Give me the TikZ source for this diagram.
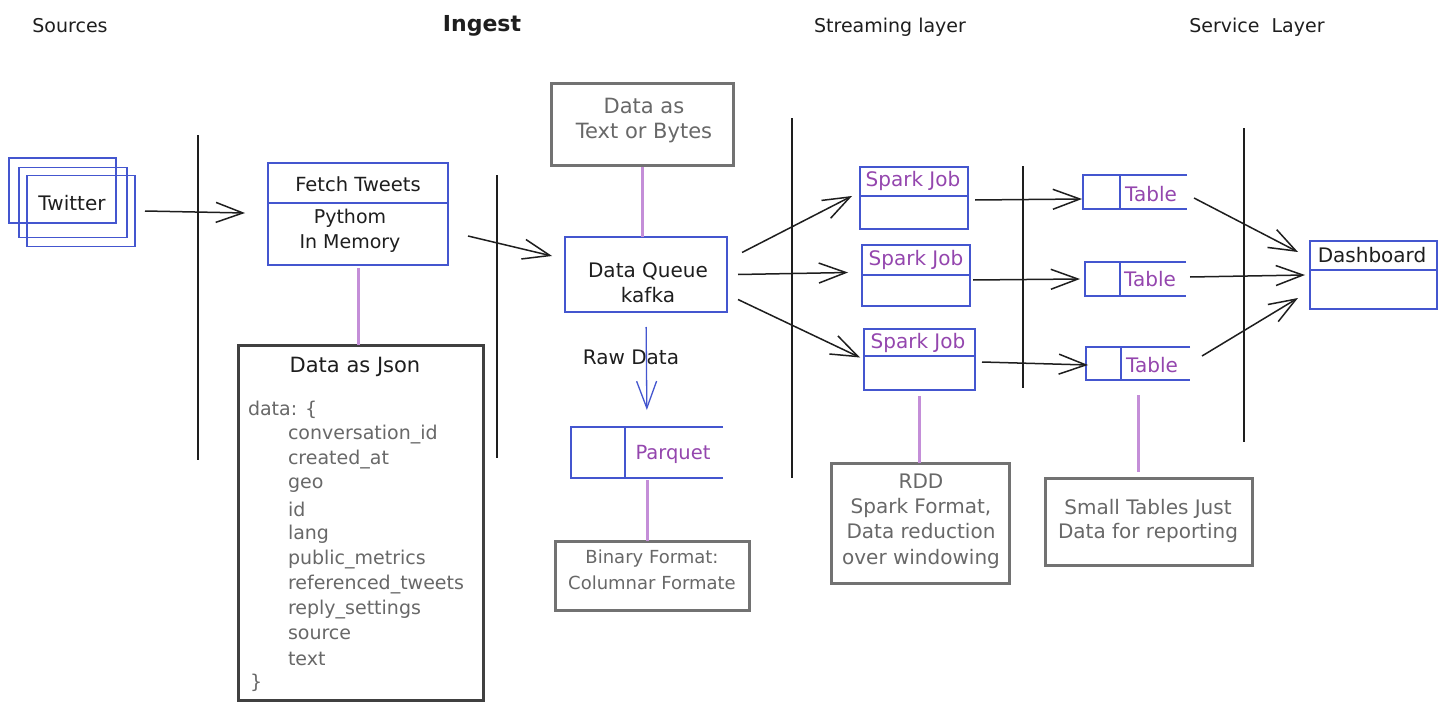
\documentclass[tikz,border=0pt]{standalone}
\usepackage{fontspec}
\setmainfont{DejaVu Sans}
\usetikzlibrary{arrows.meta,calc}
\definecolor{sblue}{HTML}{4456CF}
\definecolor{spurp}{HTML}{9446AE}
\definecolor{lpurp}{HTML}{C48ED8}
\definecolor{sgray}{HTML}{727272}
\definecolor{tgray}{HTML}{686868}
\definecolor{ink}{HTML}{1E1E1E}
\newcommand{\fsz}[2]{\fontsize{#1pt}{#2pt}\selectfont}
\begin{document}
\begin{tikzpicture}[x=1pt,y=-1pt,
  every node/.style={inner sep=0pt, outer sep=0pt, text=ink},
  bline/.style={draw=sblue, line width=1.3pt},
  bbox/.style={draw=sblue, line width=1.3pt, rectangle},
  gbox/.style={draw=sgray, line width=3pt, rectangle},
  gtxt/.style={text=tgray, align=center},
  sepl/.style={draw=ink, line width=1.4pt},
  arr/.style={draw=ink, line width=1.5pt, -{Straight Barb[length=27pt,width=20pt]}},
  barr/.style={draw=sblue, line width=1.3pt, -{Straight Barb[length=27pt,width=20pt]}},
  link/.style={draw=lpurp, line width=3pt},
  ptxt/.style={text=spurp},
  hdr/.style={font=\fsz{19}{23}},
]
\fill[white] (0,0) rectangle (1449,709);
\useasboundingbox (0,0) rectangle (1449,709);

% headers
\node[hdr] (hsrc) at (70,26) {Sources};
\node[font=\fsz{22}{26}\bfseries] (hing) at (482,26) {Ingest};
\node[hdr] (hstr) at (890,27) {Streaming layer};
\node[hdr] (hsvc) at (1257,27) {Service\ \ Layer};

% separators
\draw[sepl] (198,135) -- (198,460);
\draw[sepl] (497,175) -- (497,458);
\draw[sepl] (792,118) -- (792,478);
\draw[sepl] (1023,166) -- (1023,388);
\draw[sepl] (1244,128) -- (1244,442);

% Twitter stack
\node[bbox, minimum width=107pt, minimum height=65pt] (tw1) at (62.5,190.5) {};
\node[bbox, minimum width=108pt, minimum height=70pt] (tw2) at (73,202.5) {};
\node[bbox, minimum width=108pt, minimum height=71pt] (tw3) at (81,211) {};
\node[font=\fsz{20}{24}] (twt) at (72,203) {Twitter};

% Fetch tweets
\node[bbox, minimum width=180pt, minimum height=102pt] (fetch) at (358,214) {};
\draw[bline] (fetch.west |- 0,203) -- (fetch.east |- 0,203);
\node[font=\fsz{19.5}{24}] (fetcht) at (358,184) {Fetch Tweets};
\node[font=\fsz{19}{25}, align=center] (fetchb) at (350,231) {Pythom\\In Memory};

% Json box
\node[draw=ink!85, line width=3pt, rectangle, minimum width=245pt, minimum height=355pt] (json) at (360.5,522.5) {};
\node[font=\fsz{21}{25}] (jsont) at (355,367) {Data as Json};
\node[anchor=west, text=tgray, font=\fsz{19}{24}] (jd) at (248,410) {data: \{};
\foreach \t [count=\i] in {conversation\_id, created\_at, geo, id, lang, public\_metrics, referenced\_tweets, reply\_settings, source, text}
  \node[anchor=west, text=tgray, font=\fsz{19}{24}] (j\i) at (288,410+\i*24.9) {\t};
\node[anchor=west, text=tgray, font=\fsz{19}{24}] (je) at (250,683) {\}};

% Data as text
\node[gbox, minimum width=182pt, minimum height=81pt] (txtb) at (642,124.5) {};
\node[gtxt, font=\fsz{21}{25}] (txtt) at (644,121) {Data as\\Text or Bytes};

% Kafka
\node[bbox, minimum width=162pt, minimum height=75pt] (kafka) at (646,274.5) {};
\node[font=\fsz{20}{25}, align=center] (kafkat) at (648,283) {Data Queue\\kafka};

% Parquet
\node[minimum width=152pt, minimum height=51pt] (parq) at (647,452.5) {};
\draw[bline] (parq.north east) -- (parq.north west) -- (parq.south west) -- (parq.south east);
\draw[bline] (parq.north -| 625,0) -- (parq.south -| 625,0);
\node[ptxt, font=\fsz{19.5}{24}] (parqt) at (673,454) {Parquet};

% Binary format
\node[gbox, minimum width=194pt, minimum height=69pt] (bin) at (652,575.5) {};
\node[gtxt, font=\fsz{18}{26}] (bint) at (652,570) {Binary Format:\\Columnar Formate};

% Spark jobs
\node[bbox, minimum width=108pt, minimum height=62pt] (s1) at (914,198) {};
\draw[bline] (s1.west |- 0,196) -- (s1.east |- 0,196);
\node[ptxt, font=\fsz{20}{24}] (s1t) at (913,181) {Spark Job};
\node[bbox, minimum width=108pt, minimum height=61pt] (s2) at (916,275.5) {};
\draw[bline] (s2.west |- 0,275) -- (s2.east |- 0,275);
\node[ptxt, font=\fsz{20}{24}] (s2t) at (916,260) {Spark Job};
\node[bbox, minimum width=111pt, minimum height=61pt] (s3) at (919.5,359.5) {};
\draw[bline] (s3.west |- 0,356) -- (s3.east |- 0,356);
\node[ptxt, font=\fsz{20}{24}] (s3t) at (918,343) {Spark Job};

% Tables
\node[minimum width=104pt, minimum height=34pt] (t1) at (1135,192) {};
\draw[bline] (t1.north east) -- (t1.north west) -- (t1.south west) -- (t1.south east);
\draw[bline] (t1.north -| 1120,0) -- (t1.south -| 1120,0);
\node[ptxt, font=\fsz{20}{24}] (t1t) at (1151,194) {Table};
\node[minimum width=101pt, minimum height=34pt] (t2) at (1135.5,279) {};
\draw[bline] (t2.north east) -- (t2.north west) -- (t2.south west) -- (t2.south east);
\draw[bline] (t2.north -| 1120,0) -- (t2.south -| 1120,0);
\node[ptxt, font=\fsz{20}{24}] (t2t) at (1150,279) {Table};
\node[minimum width=104pt, minimum height=33pt] (t3) at (1138,363.5) {};
\draw[bline] (t3.north east) -- (t3.north west) -- (t3.south west) -- (t3.south east);
\draw[bline] (t3.north -| 1121,0) -- (t3.south -| 1121,0);
\node[ptxt, font=\fsz{20}{24}] (t3t) at (1152,365) {Table};

% Dashboard
\node[bbox, minimum width=127pt, minimum height=68pt] (dash) at (1373.5,275) {};
\draw[bline] (dash.west |- 0,270) -- (dash.east |- 0,270);
\node[font=\fsz{20}{24}] (dasht) at (1372,255) {Dashboard};

% RDD
\node[gbox, minimum width=178pt, minimum height=120pt] (rdd) at (920,523) {};
\node[gtxt, font=\fsz{20}{25.3}] (rddt) at (921,521) {RDD\\Spark Format,\\Data reduction\\over windowing};

% Small tables
\node[gbox, minimum width=207pt, minimum height=87pt] (small) at (1148.5,521.5) {};
\node[gtxt, font=\fsz{20}{24.5}] (smallt) at (1148,521) {Small Tables Just\\Data for reporting};

% Raw data label
\node[font=\fsz{20}{24}] (rawl) at (631,357) {Raw Data};

% links (purple)
\draw[link, shorten <=3pt] (fetch.south) -- (fetch.south |- json.north);
\draw[link, shorten <=2pt] (txtb.south) -- (txtb.south |- kafka.north);
\draw[link, shorten <=2pt] (parq.south) -- (parq.south |- bin.north);
\draw[link, shorten <=6pt] (s3.south) -- (s3.south |- rdd.north);
\draw[link, shorten <=15pt, shorten >=6pt] (t3.south) -- (t3.south |- small.north);

% arrows
\draw[arr] ($(tw3.east)+(10,0)$) -- ($(fetch.west)+(-23,-1)$);
\draw[arr] ($(fetch.east)+(20,22)$) -- ($(kafka.west)+(-13,-18.5)$);
\draw[barr, shorten <=15pt, shorten >=17pt] (kafka.south) -- (parq.north);
\draw[arr] ($(kafka.east)+(15,-22)$) -- ($(s1.west)+(-8,-2)$);
\draw[arr] ($(kafka.east)+(11,0)$) -- ($(s2.west)+(-14,-3)$);
\draw[arr] ($(kafka.east)+(11,25)$) -- ($(s3.west)+(-4,-2)$);
\draw[arr] ($(s1.east)+(7,2)$) -- ($(t1.west)+(-1,7)$);
\draw[arr] ($(s2.east)+(3,4.5)$) -- ($(t2.west)+(-5,0)$);
\draw[arr] ($(s3.east)+(7,2.5)$) -- ($(t3.west)+(2,1.5)$);
\draw[arr] ($(t1.east)+(7,6)$) -- ($(dash.west)+(-12,-23)$);
\draw[arr] ($(t2.east)+(4,-2)$) -- ($(dash.west)+(-5,0)$);
\draw[arr] ($(t3.east)+(12,-7.5)$) -- ($(dash.west)+(-12,23)$);
\end{tikzpicture}
\end{document}
